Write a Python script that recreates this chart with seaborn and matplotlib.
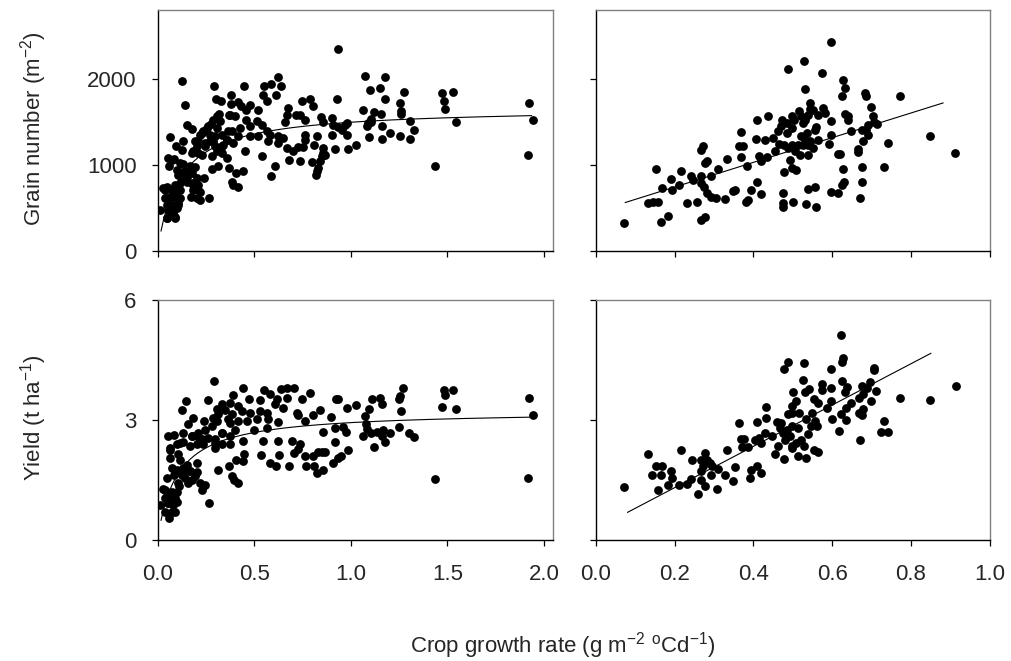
""" Grain number and yield vs crop growth rate, 2x2 scatter panels """

import matplotlib
matplotlib.use('Agg')
import matplotlib.pyplot as plt
import seaborn as sns

# ---- top-left: grain number vs crop growth rate (wide range) ----
tl_x = [0.935, 0.125, 0.623, 0.292, 0.446, 0.549, 0.585, 0.640, 0.379, 0.547,
        0.613, 0.565, 0.144, 0.301, 0.330, 0.379, 0.418, 0.434, 0.477, 0.458,
        0.522, 0.677, 0.789, 0.746, 0.806, 0.927, 0.317, 0.370, 0.401, 0.668,
        0.715, 0.737, 0.844, 0.901, 0.289, 0.323, 0.456, 0.513, 0.660, 0.763,
        0.858, 0.979, 0.154, 0.177, 0.277, 0.254, 0.306, 0.384, 0.426, 0.478,
        0.539, 0.565, 0.910, 0.936, 0.953, 0.970, 0.237, 0.220, 0.298, 0.332,
        0.367, 0.418, 0.478, 0.522, 0.582, 0.625, 0.651, 0.763, 0.823, 0.901,
        0.979, 0.065, 0.134, 0.211, 0.272, 0.358, 0.392, 0.573, 0.625, 0.763,
        0.096, 0.125, 0.185, 0.203, 0.246, 0.298, 0.341, 0.306, 0.332, 0.228,
        0.280, 0.453, 0.668, 0.703, 0.729, 0.751, 0.811, 0.858, 0.918, 0.984,
        1.025, 0.858, 0.358, 0.539, 0.056, 0.085, 0.061, 0.134, 0.168, 0.194,
        0.151, 0.134, 0.108, 0.177, 0.280, 0.315, 0.372, 0.406, 0.444, 0.608,
        0.585, 0.682, 0.737, 0.801, 0.823, 0.820, 0.840, 0.849, 0.866, 0.832,
        0.242, 0.203, 0.384, 0.392, 0.415, 0.091, 0.116, 0.151, 0.177, 0.211,
        0.047, 0.027, 0.073, 0.116, 0.185, 0.220, 0.172, 0.220, 0.268, 0.039,
        0.065, 0.091, 0.116, 0.047, 0.073, 0.108, 0.013, 0.056, 0.099, 0.069,
        0.091, 0.047, 0.082,
        0.039, 0.065, 0.091, 0.108, 0.125, 0.151, 0.159, 0.134, 0.116, 0.099,
        0.185, 0.211, 0.203, 0.073, 0.056, 0.108, 0.048, 0.091, 0.177, 0.211,
        0.246, 0.289, 0.332, 0.358, 0.229, 0.263, 0.306, 0.375, 0.272, 0.194,
        0.073, 0.116,
        1.072, 1.177, 1.098, 1.151, 1.177, 1.274, 1.255, 1.258, 1.260, 1.065,
        1.120, 1.155, 1.103, 1.091, 1.082, 1.107, 1.160, 1.306, 1.329, 1.203,
        1.255, 1.306, 1.093, 1.163, 1.473, 1.527, 1.484, 1.487, 1.543, 1.436,
        1.922, 1.941, 1.917]
tl_y = [2346, 1977, 2020, 1919, 1911, 1911, 1942, 1911, 1814, 1814,
        1814, 1737, 1690, 1764, 1737, 1710, 1729, 1679, 1698, 1640,
        1640, 1659, 1768, 1737, 1679, 1768, 1590, 1582, 1562, 1582,
        1582, 1582, 1551, 1543, 1524, 1504, 1524, 1512, 1497, 1524,
        1497, 1485, 1458, 1419, 1473, 1427, 1427, 1396, 1427, 1446,
        1458, 1388, 1466, 1435, 1407, 1466, 1388, 1349, 1330, 1349,
        1388, 1330, 1330, 1330, 1349, 1330, 1310, 1349, 1337, 1349,
        1349, 1322, 1279, 1272, 1272, 1291, 1252, 1272, 1252, 1291,
        1213, 1175, 1155, 1213, 1213, 1213, 1233, 1155, 1136, 1117,
        1097, 1155, 1194, 1155, 1202, 1202, 1225, 1194, 1186, 1186,
        1225, 1136, 1078, 1097, 1078, 1070, 981, 1008, 981, 969,
        942, 903, 884, 903, 950, 981, 961, 903, 923, 981,
        865, 1058, 1047, 1031, 923, 884, 1039, 1097, 1117, 961,
        845, 845, 806, 768, 737, 768, 787, 806, 787, 768,
        748, 729, 709, 709, 709, 690, 632, 593, 613, 613,
        632, 632, 613, 535, 535, 554, 477, 477, 496, 419,
        380, 380, 438,
        709, 613, 671, 748, 826, 864, 922, 922, 884, 942,
        768, 709, 613, 515, 477, 535, 380, 399, 1136, 1136,
        1252, 1271, 1213, 1291, 1369, 1446, 1562, 1582, 1349, 1271,
        1058, 1020,
        2035, 2020, 1873, 1896, 1764, 1845, 1721, 1628, 1593, 1632,
        1613, 1590, 1535, 1485, 1446, 1497, 1446, 1512, 1403, 1372,
        1334, 1295, 1318, 1295, 1834, 1842, 1745, 1648, 1493, 989,
        1718, 1524, 1109]

# ---- top-right: grain number vs crop growth rate (narrow range) ----
tr_x = [0.070, 0.165, 0.184, 0.152, 0.168, 0.190, 0.194, 0.212, 0.217, 0.133,
        0.146, 0.157, 0.230, 0.241, 0.247, 0.257, 0.266, 0.278, 0.268, 0.271,
        0.268, 0.268, 0.274, 0.276, 0.281, 0.283, 0.292, 0.293, 0.306, 0.310,
        0.328, 0.334, 0.349, 0.353, 0.363, 0.374, 0.368, 0.368, 0.384, 0.382,
        0.386, 0.395, 0.408, 0.418, 0.406, 0.410, 0.414, 0.418, 0.434, 0.430,
        0.436, 0.449, 0.455, 0.463, 0.471, 0.473, 0.484, 0.484, 0.487, 0.465,
        0.478, 0.487, 0.497, 0.497, 0.499, 0.494, 0.497, 0.477, 0.476, 0.476,
        0.476, 0.500,
        0.597, 0.529, 0.531, 0.575, 0.627, 0.632, 0.624, 0.684, 0.686, 0.773,
        0.698, 0.632, 0.639, 0.641, 0.704, 0.706, 0.715, 0.690, 0.686, 0.675,
        0.677, 0.690, 0.648, 0.597, 0.597, 0.593, 0.741, 0.848, 0.913, 0.614,
        0.619, 0.666, 0.665, 0.628, 0.675, 0.732, 0.675, 0.631, 0.624, 0.615,
        0.597, 0.670, 0.556, 0.538, 0.560, 0.533, 0.544, 0.543, 0.551, 0.516,
        0.520, 0.538, 0.563, 0.577, 0.582, 0.503, 0.531, 0.526, 0.556, 0.560,
        0.535, 0.521, 0.531, 0.544, 0.564, 0.514, 0.526, 0.539, 0.552, 0.505,
        0.518, 0.539, 0.509]
tr_y = [322, 341, 411, 946, 729, 837, 709, 768, 930, 551,
        566, 566, 558, 865, 826, 566, 361, 392, 1175, 1213,
        865, 787, 748, 1020, 1039, 671, 632, 865, 613, 950,
        601, 1066, 698, 709, 1221, 1221, 1380, 1086, 985, 566,
        597, 709, 806, 663, 1303, 1524, 1097, 1039, 1086, 1283,
        1562, 1310, 1155, 1388, 1446, 1524, 1485, 1369, 2117, 1240,
        1233, 1194, 1562, 1427, 1233, 1058, 961, 915, 671, 562,
        516, 574,
        2427, 2202, 1884, 2066, 1989, 1892, 1795, 1834, 1795, 1795,
        1667, 1590, 1562, 1524, 1562, 1497, 1477, 1466, 1407, 1407,
        1272, 1349, 1396, 1504, 1349, 1240, 1252, 1330, 1132, 1124,
        1124, 1186, 1148, 954, 969, 969, 806, 806, 768, 671,
        682, 620, 748, 717, 512, 547, 1717, 1652, 1640, 1621,
        1562, 1582, 1582, 1659, 1601, 1524, 1524, 1485, 1407, 1435,
        1369, 1330, 1291, 1279, 1291, 1225, 1233, 1233, 1194, 1155,
        1117, 1117, 942]

# ---- bottom-left: yield vs crop growth rate (wide range) ----
bl_x = [0.292, 0.444, 0.551, 0.582, 0.639, 0.672, 0.706, 0.789, 0.746, 0.668,
        0.616, 0.530, 0.475, 0.392, 0.375, 0.263, 0.147, 0.125, 0.332, 0.418,
        0.306, 0.349, 0.384, 0.435, 0.478, 0.530, 0.565, 0.608, 0.651, 0.625,
        0.185, 0.156, 0.242, 0.289, 0.306, 0.375, 0.418, 0.461, 0.513, 0.573,
        0.500, 0.565, 0.720, 0.728, 0.763, 0.806, 0.840, 0.897, 0.924, 0.936,
        0.979, 1.025, 0.918, 0.961, 0.975, 0.858, 0.918, 0.985, 0.949, 0.056,
        0.085, 0.134, 0.177, 0.203, 0.228, 0.263, 0.298, 0.332, 0.375, 0.237,
        0.203, 0.168, 0.134, 0.099, 0.065, 0.108, 0.065, 0.298, 0.332, 0.375,
        0.444, 0.449, 0.444, 0.406, 0.372, 0.384, 0.396, 0.415, 0.315, 0.535,
        0.582, 0.611, 0.630, 0.682, 0.706, 0.728, 0.737, 0.763, 0.766, 0.806,
        0.810, 0.823, 0.828, 0.849, 0.866, 0.858, 0.906, 0.936, 0.547, 0.625,
        0.694, 0.073, 0.103, 0.134, 0.168, 0.203, 0.085, 0.125, 0.177, 0.220,
        0.246, 0.228, 0.203, 0.151, 0.116, 0.047, 0.027, 0.047, 0.073, 0.099,
        0.113, 0.065, 0.039, 0.091, 0.056, 0.082, 0.099, 0.013, 0.059, 0.039,
        0.091, 0.268,
        0.039, 0.065, 0.091, 0.056, 0.091, 0.108, 0.099, 0.134, 0.168, 0.142,
        0.194, 0.159, 0.073, 0.211, 0.246, 0.280, 0.237, 0.298, 0.332, 0.177,
        0.315, 0.366, 0.401, 0.065, 0.116,
        1.272, 1.255, 1.252, 1.258, 1.251, 1.303, 1.327, 1.111, 1.151, 1.160,
        1.096, 1.072, 1.078, 1.085, 1.103, 1.065, 1.134, 1.168, 1.203, 1.160,
        1.177, 1.119, 1.484, 1.527, 1.487, 1.473, 1.543, 1.436, 1.922, 1.941,
        1.917]
bl_y = [3.98, 3.79, 3.74, 3.66, 3.77, 3.79, 3.79, 3.67, 3.53, 3.56,
        3.53, 3.50, 3.53, 3.62, 3.43, 3.50, 3.48, 3.25, 3.39, 3.35,
        3.27, 3.25, 3.14, 3.22, 3.18, 3.22, 3.17, 3.39, 3.31, 2.95,
        3.06, 2.91, 2.97, 3.06, 2.97, 2.93, 2.97, 2.97, 3.02, 3.02,
        2.76, 2.81, 3.17, 3.12, 2.97, 3.12, 3.24, 3.08, 3.52, 3.53,
        3.29, 3.38, 2.79, 2.83, 2.70, 2.71, 2.45, 2.26, 2.09, 2.60,
        2.62, 2.68, 2.60, 2.60, 2.53, 2.55, 2.53, 2.68, 2.60, 2.39,
        2.39, 2.35, 2.45, 2.39, 2.30, 2.14, 2.04, 2.30, 2.41, 2.39,
        2.47, 2.16, 1.97, 2.01, 1.84, 1.59, 1.51, 1.42, 1.76, 2.12,
        1.93, 1.84, 2.12, 1.84, 2.18, 2.28, 2.39, 2.09, 1.84, 2.09,
        1.84, 1.68, 2.20, 2.20, 2.20, 1.76, 1.93, 2.05, 2.47, 2.47,
        2.47, 1.80, 1.76, 1.72, 1.72, 1.69, 1.63, 1.63, 1.51, 1.42,
        1.38, 1.26, 1.93, 1.88, 2.01, 1.55, 1.27, 1.21, 1.21, 1.21,
        1.34, 1.09, 1.05, 1.05, 0.92, 0.88, 0.96, 0.88, 0.54, 0.69,
        0.71, 0.92,
        1.26, 1.09, 1.17, 0.92, 1.01, 1.42, 1.72, 1.80, 1.72, 1.55,
        1.59, 1.42, 0.71, 2.68, 2.76, 2.85, 2.51, 2.43, 2.68, 2.60,
        3.14, 3.02, 2.76, 2.26, 2.43,
        3.79, 3.60, 3.52, 3.22, 2.82, 2.68, 2.57, 3.53, 3.56, 3.39,
        3.27, 3.10, 2.89, 2.78, 2.68, 2.60, 2.70, 2.76, 2.68, 2.60,
        2.45, 2.32, 3.74, 3.75, 3.62, 3.33, 3.28, 1.52, 3.54, 3.12,
        1.55]

# ---- bottom-right: yield vs crop growth rate (narrow range) ----
br_x = [0.070, 0.133, 0.152, 0.168, 0.143, 0.165, 0.190, 0.192, 0.157, 0.184,
        0.211, 0.217, 0.230, 0.241, 0.245, 0.258, 0.268, 0.268, 0.272, 0.268,
        0.278, 0.281, 0.289, 0.295, 0.291, 0.278, 0.307, 0.311, 0.328, 0.334,
        0.347, 0.353, 0.363, 0.368, 0.377, 0.370, 0.385, 0.391, 0.395, 0.408,
        0.419, 0.410, 0.404, 0.414, 0.418, 0.429, 0.433, 0.433, 0.448, 0.455,
        0.461, 0.463, 0.467, 0.471, 0.476, 0.477, 0.480, 0.477, 0.487, 0.488,
        0.484, 0.493, 0.497, 0.500, 0.499, 0.497, 0.497,
        0.622, 0.628, 0.626, 0.529, 0.597, 0.705, 0.706, 0.527, 0.575, 0.598,
        0.624, 0.637, 0.632, 0.675, 0.688, 0.696, 0.711, 0.699, 0.679, 0.667,
        0.649, 0.634, 0.622, 0.634, 0.617, 0.671, 0.677, 0.675, 0.669, 0.598,
        0.586, 0.575, 0.600, 0.563, 0.555, 0.540, 0.531, 0.509, 0.516, 0.514,
        0.533, 0.548, 0.557, 0.561, 0.546, 0.538, 0.522, 0.509, 0.497, 0.529,
        0.555, 0.565, 0.514, 0.533, 0.732, 0.723, 0.741, 0.773, 0.848, 0.914]
br_y = [1.32, 2.14, 1.86, 1.84, 1.62, 1.62, 1.72, 1.55, 1.26, 1.38,
        1.38, 2.24, 1.41, 1.52, 2.01, 1.16, 1.51, 1.72, 1.84, 1.99,
        2.18, 2.01, 1.93, 1.86, 1.63, 1.34, 1.28, 1.78, 1.63, 2.26,
        1.47, 1.82, 2.93, 2.53, 2.53, 2.33, 2.33, 1.55, 1.76, 1.84,
        1.68, 2.96, 2.51, 2.55, 2.43, 2.68, 3.32, 3.06, 2.60, 2.15,
        2.95, 2.35, 2.81, 2.93, 2.68, 2.03, 2.51, 4.27, 4.46, 3.14,
        2.76, 2.60, 2.85, 3.69, 3.35, 3.18, 2.30,
        5.13, 4.54, 4.46, 4.42, 4.27, 4.31, 4.25, 4.00, 3.91, 3.79,
        3.98, 3.83, 3.70, 3.85, 3.81, 3.95, 3.73, 3.48, 3.64, 3.56,
        3.43, 3.31, 3.14, 3.00, 2.72, 2.51, 3.27, 3.12, 3.18, 3.48,
        3.29, 3.75, 3.03, 3.43, 3.52, 3.77, 3.69, 3.48, 3.18, 2.81,
        3.03, 3.18, 2.97, 2.85, 2.86, 2.64, 2.51, 2.43, 2.35, 2.35,
        2.26, 2.20, 2.09, 2.04, 2.97, 2.70, 2.71, 3.56, 3.50, 3.85]

# fitted relationships as drawn on the original figure
tl_fit = dict(a=1661, b=0.112, x0=0.018, x1=1.936)    # y = a x / (b + x)
bl_fit = dict(a=3.231, b=0.1014, x0=0.018, x1=1.927)
tr_fit = dict(c=456, m=1431, x0=0.074, x1=0.882)      # y = c + m x
br_fit = dict(c=0.277, m=5.16, x0=0.080, x1=0.851)


def hyper_curve(p, n=200):
    xs = [p['x0'] + (p['x1'] - p['x0']) * i / (n - 1) for i in range(n)]
    return xs, [p['a'] * x / (p['b'] + x) for x in xs]


def lin_curve(p):
    xs = [p['x0'], p['x1']]
    return xs, [p['c'] + p['m'] * x for x in xs]


sns.set_style('ticks')
plt.rcParams['font.family'] = ['Liberation Sans', 'DejaVu Sans']
plt.rcParams['mathtext.fontset'] = 'custom'
plt.rcParams['mathtext.rm'] = 'Liberation Sans'
plt.rcParams['mathtext.default'] = 'regular'

FS = 16
fig = plt.figure(figsize=(10.11, 6.61), dpi=100)
ax_tl = fig.add_axes([0.1558, 0.6203, 0.3915, 0.3651])
ax_tr = fig.add_axes([0.5895, 0.6203, 0.3894, 0.3651])
ax_bl = fig.add_axes([0.1558, 0.1831, 0.3915, 0.3631])
ax_br = fig.add_axes([0.5895, 0.1831, 0.3894, 0.3631])

panels = [(ax_tl, tl_x, tl_y, hyper_curve(tl_fit)),
          (ax_tr, tr_x, tr_y, lin_curve(tr_fit)),
          (ax_bl, bl_x, bl_y, hyper_curve(bl_fit)),
          (ax_br, br_x, br_y, lin_curve(br_fit))]

for ax, xs, ys, (fx, fy) in panels:
    sns.scatterplot(x=xs, y=ys, ax=ax, color='black', s=40, linewidth=0, zorder=3)
    ax.plot(fx, fy, color='black', lw=0.8, zorder=2)
    for side in ['top', 'right']:
        ax.spines[side].set_color('#808080')
    for side in ['left', 'bottom']:
        ax.spines[side].set_color('black')
    for sp in ax.spines.values():
        sp.set_linewidth(1.0)
    ax.tick_params(direction='out', length=4, width=0.9, color='black',
                   labelsize=FS, top=False, right=False)
    ax.tick_params(axis='x', pad=13)
    ax.tick_params(axis='y', pad=11)

# wide range panels
for ax in (ax_tl, ax_bl):
    ax.set_xlim(0, 2.048)
    ax.set_xticks([0, 0.5, 1.0, 1.5, 2.0])
for ax in (ax_tr, ax_br):
    ax.set_xlim(0, 1.0)
    ax.set_xticks([0, 0.2, 0.4, 0.6, 0.8, 1.0])
for ax in (ax_tl, ax_tr):
    ax.set_ylim(0, 2800)
    ax.set_yticks([0, 1000, 2000])
    ax.tick_params(axis='x', labelbottom=False)
for ax in (ax_bl, ax_br):
    ax.set_ylim(0, 6)
    ax.set_yticks([0, 3, 6])
for ax in (ax_tr, ax_br):
    ax.tick_params(axis='y', labelleft=False)

ax_bl.set_xticklabels(['0.0', '0.5', '1.0', '1.5', '2.0'])
ax_br.set_xticklabels(['0.0', '0.2', '0.4', '0.6', '0.8', '1.0'])

fig.text(0.033, 0.806, 'Grain number (m$^{-2}$)', rotation=90,
         ha='center', va='center', fontsize=FS)
fig.text(0.033, 0.368, 'Yield (t ha$^{-1}$)', rotation=90,
         ha='center', va='center', fontsize=FS)
fig.text(0.557, 0.024, 'Crop growth rate (g m$^{-2}$ $^{o}$Cd$^{-1}$)',
         ha='center', va='center', fontsize=FS)

fig.savefig('out.png', dpi=100)
